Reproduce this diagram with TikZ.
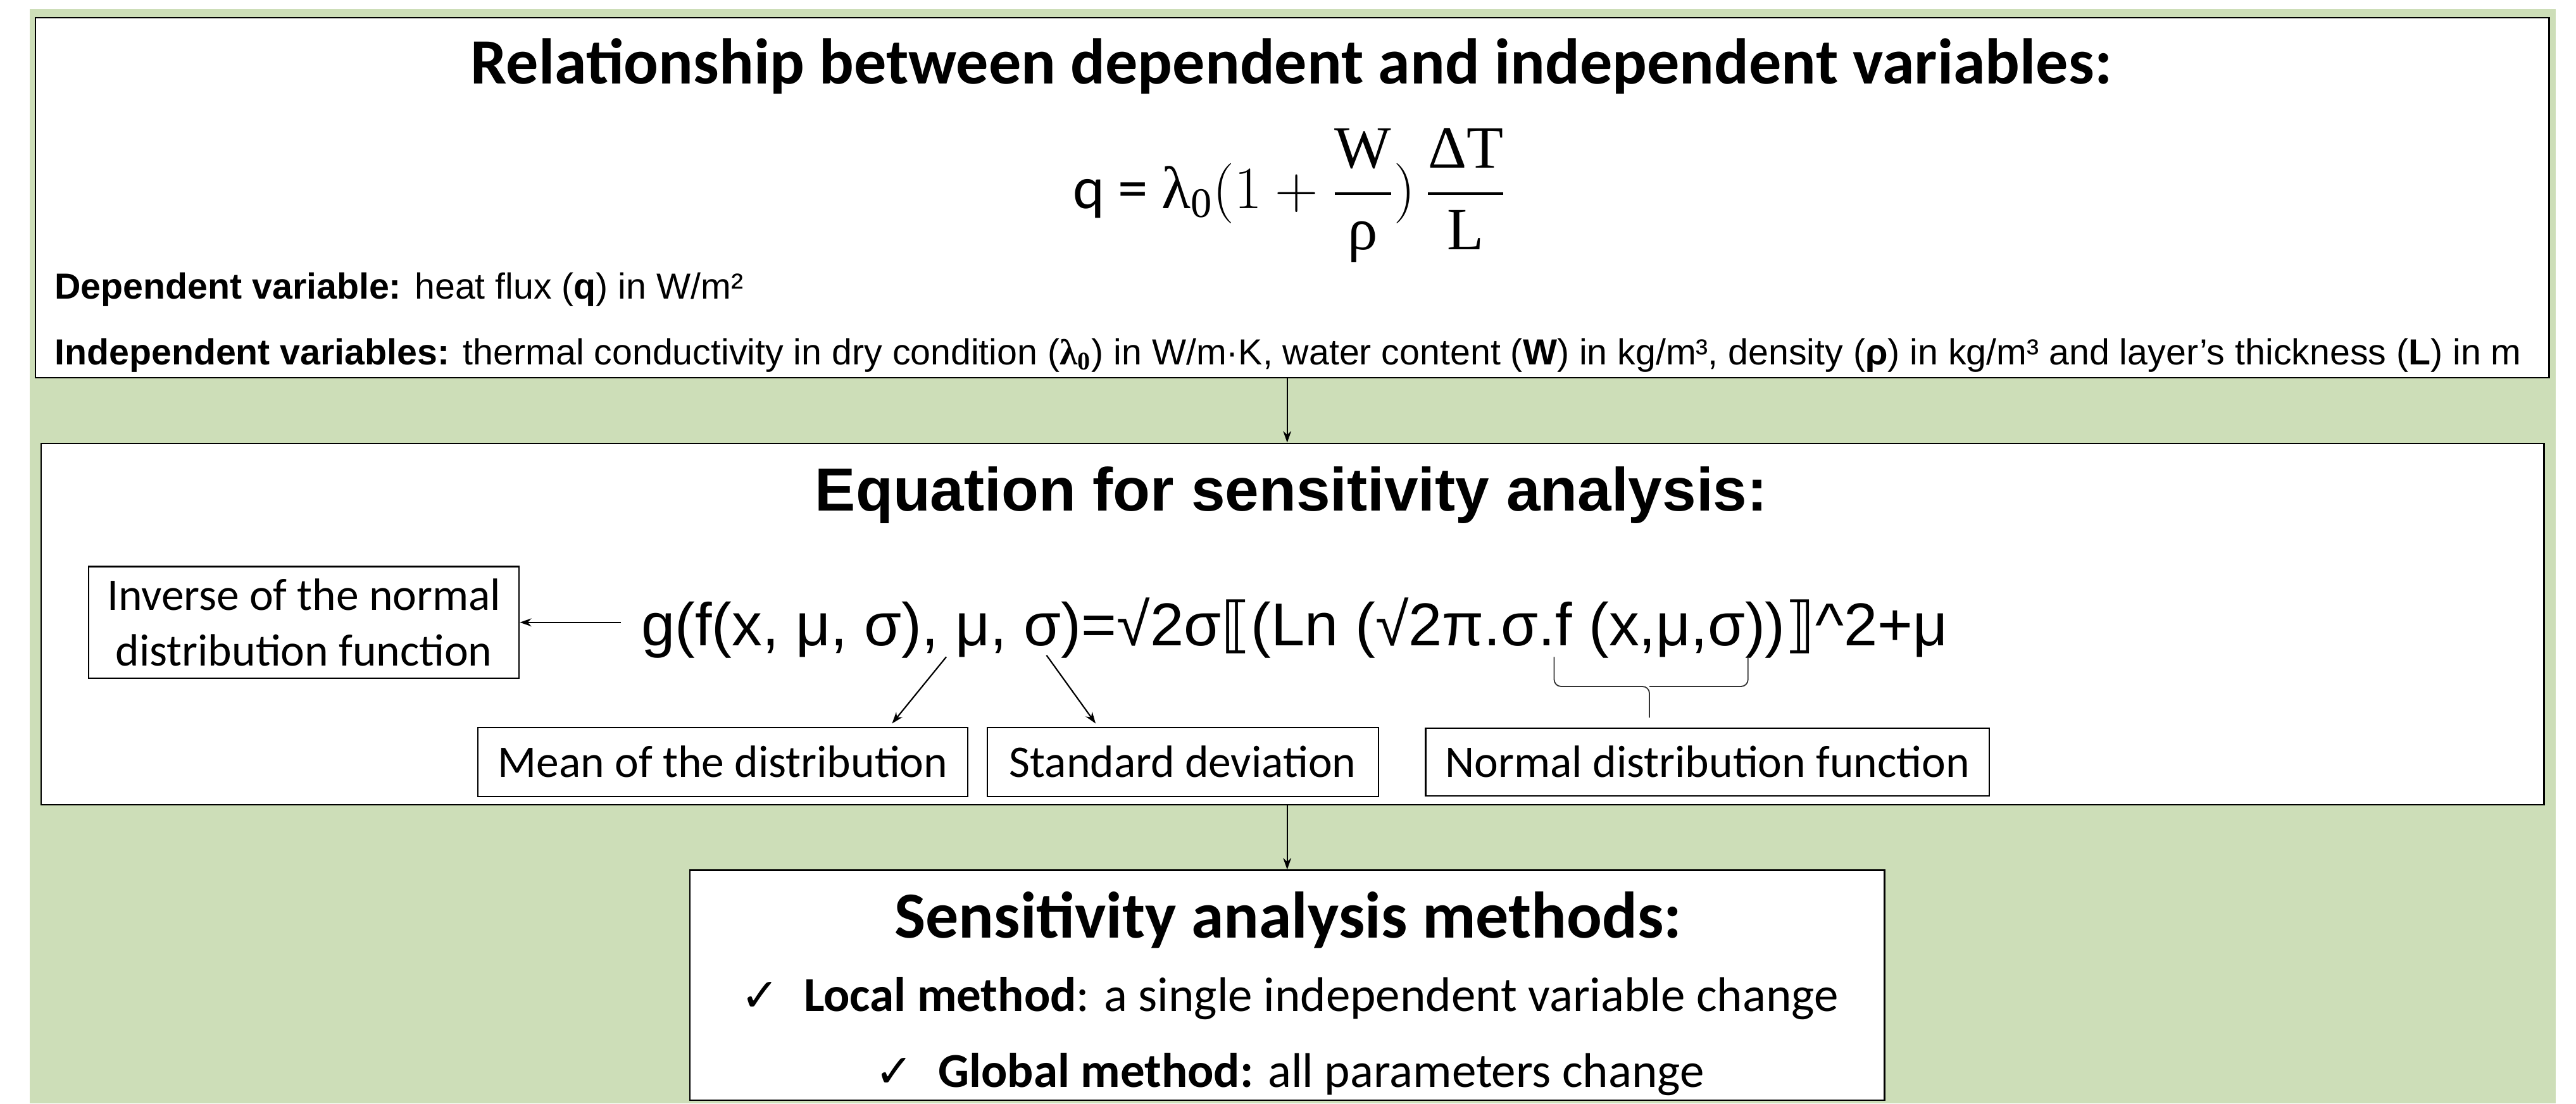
\documentclass[tikz,border=0pt]{standalone}
\usepackage{fix-cm}
\usepackage{amsmath}
\usepackage{fontspec}
\usepackage{tikz}
\usetikzlibrary{arrows.meta, positioning, fit, calc}
\setmainfont{Carlito}
\newfontfamily\arialfont{Liberation Sans}
\newfontfamily\timesgr{Liberation Serif}
\newfontfamily\dejavu{DejaVu Sans}
\definecolor{sheetgreen}{RGB}{205,222,184}

\begin{document}
\begin{tikzpicture}[
  x=0.025cm, y=-0.025cm,
  panel/.style={draw, fill=white, line width=0.7pt, inner sep=0pt},
  tag/.style={draw, fill=white, line width=0.6pt, inner sep=0pt, align=center,
    font=\fontsize{19.6}{24}\selectfont},
  arrow/.style={-{Stealth[length=5pt,width=3.5pt]}, line width=0.6pt},
  heading/.style={anchor=base, font=\fontsize{28}{32}\selectfont\bfseries},
  varline/.style={anchor=base west, inner sep=0pt, font=\arialfont\fontsize{15.7}{18}\selectfont},
  methline/.style={anchor=base, font=\fontsize{21.1}{25}\selectfont},
]
  \useasboundingbox (0,0) rectangle (1568,672);
  \fill[sheetgreen] (18.1,5.4) rectangle (1555.6,672);

  % the three panels
  \node (rel)  [panel, fit={(21.6,10.8) (1551.7,230)}] {};
  \node (eqn)  [panel, fit={(25,270) (1548.6,490)}] {};
  \node (meth) [panel, fit={(420,530) (1147,670)}] {};

  % panel 1
  \node (reltitle) [heading] at (786,51) {Relationship between dependent and independent variables:};
  \node (releq) at (785,119) {\fontsize{26}{30}\selectfont q = $\text{\timesgr λ}_{\text{\timesgr 0}}(1+\dfrac{\text{\timesgr W}}{\text{\timesgr ρ}})\,\dfrac{\text{\timesgr ΔT}}{\text{\timesgr L}}$};
  \node (dep) [varline] at (33,182) {\textbf{Dependent variable:} heat flux (\textbf{q}) in W/m²};
  \node (indep) [varline] at (33,222) {\textbf{Independent variables:} thermal conductivity in dry condition ({\timesgr\bfseries λ}\textsubscript{\timesgr\bfseries 0}) in W/m·K, water content (\textbf{W}) in kg/m³, density (\textbf{ρ}) in kg/m³ and layer’s thickness (\textbf{L}) in m};

  % panel 2
  \node (eqtitle) [heading, font=\arialfont\fontsize{26.4}{30}\selectfont\bfseries] at (786,311) {Equation for sensitivity analysis:};
  \node (ginv) [anchor=base west, inner sep=0pt, font=\arialfont\fontsize{26.2}{30}\selectfont] at (390,393)
    {g(f(x, μ, σ), μ, σ)=√2σ{\dejavu ⟦}(Ln (√2π.σ.f (x,μ,σ)){\dejavu ⟧}\textasciicircum 2+μ};

  \node (inv) [tag, minimum width=6.55cm, minimum height=1.7cm] at (185,379) {Inverse of the normal\\distribution function};
  \node (mean) [tag, minimum width=7.45cm, minimum height=1.05cm] at (440,464) {Mean of the distribution};
  \node (sdev) [tag, minimum width=5.95cm, minimum height=1.05cm, right=0.275cm of mean] {Standard deviation};
  \node (ndf) [tag, minimum width=8.575cm, minimum height=1.025cm, right=0.7cm of sdev] {Normal distribution function};

  \coordinate (g-pt) at (378,379);
  \coordinate (mu-pt) at (576,400);
  \coordinate (sd-pt) at (637,399);
  \coordinate (brace-tip) at (1004,437);
  \draw[arrow] (g-pt) -- (inv.east);
  \draw[arrow] (mu-pt) -- ($(mean.north)+(103,-2)$);
  \draw[arrow] (sd-pt) -- ($(sdev.north)+(-53,-2)$);
  \draw[black!80, line width=0.5pt, rounded corners=3pt] (946,400) |- (brace-tip |- 0,418) -- (brace-tip);
  \draw[black!80, line width=0.5pt, rounded corners=3pt] (1064,400) |- (brace-tip |- 0,418);

  % panel 3
  \node (methtitle) [heading, font=\fontsize{28.5}{32}\selectfont\bfseries] at (784,571) {Sensitivity analysis methods:};
  \node (local) [methline] at (785,616) {{\dejavu\fontsize{20}{24}\selectfont ✓}\enspace\textbf{Local method}: a single independent variable change};
  \node (global) [methline] at (785,662) {{\dejavu\fontsize{20}{24}\selectfont ✓}\enspace\textbf{Global method:} all parameters change};

  \draw[arrow] (rel.south -| meth.north) -- (eqn.north -| meth.north);
  \draw[arrow] (eqn.south -| meth.north) -- (meth.north);
\end{tikzpicture}
\end{document}
